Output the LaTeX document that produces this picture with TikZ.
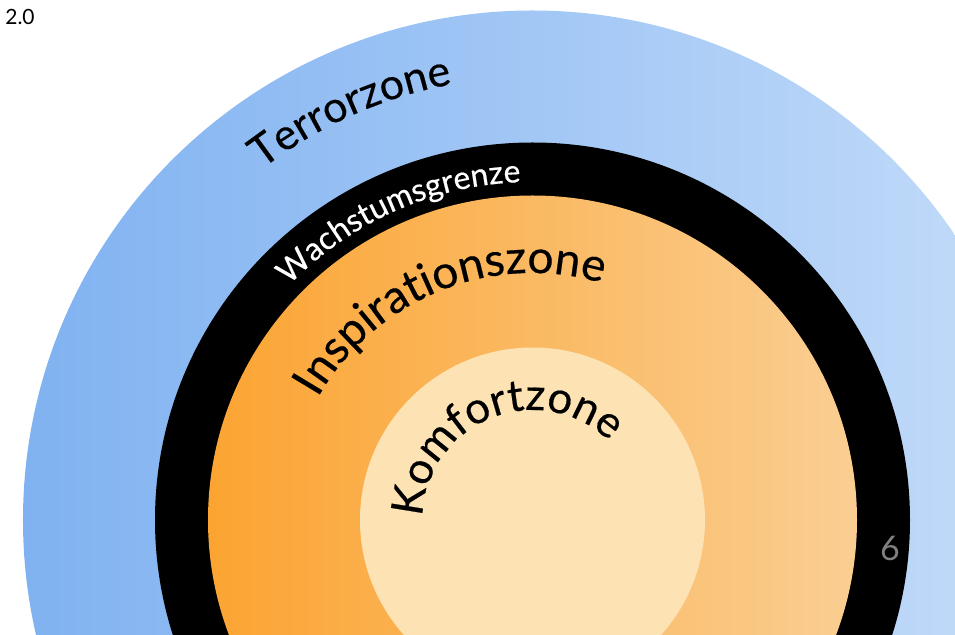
\documentclass[tikz,border=0pt]{standalone}
\usepackage{fontspec}
\setmainfont{Lato}
\usepackage{tikz}
\usetikzlibrary{decorations.text}
\definecolor{terrorleft}{RGB}{128,178,241}
\definecolor{terrorright}{RGB}{196,220,249}
\definecolor{inspleft}{RGB}{251,164,50}
\definecolor{inspright}{RGB}{250,206,146}
\definecolor{komfortcolor}{RGB}{253,227,179}
\definecolor{pagenumcolor}{RGB}{128,128,128}
\newfontfamily\zonefont[FakeBold=0.4]{Lato}
\newcommand{\terrorfont}{\zonefont\fontsize{43}{50}\selectfont}
\newcommand{\grenzefont}{\color{white}\zonefont\fontsize{32}{36}\selectfont}
\newcommand{\inspfont}{\zonefont\fontsize{46}{54}\selectfont}
\newcommand{\komfortfont}{\zonefont\fontsize{44}{52}\selectfont}
\tikzset{
  zone label/.style={
    decorate,
    decoration={text along path, text align=center, text={#1}}
  },
  corner label/.style={
    inner sep=0pt,
    font=\fontsize{21}{23}\selectfont
  },
  page number/.style={
    inner sep=0pt,
    text=pagenumcolor,
    font=\fontsize{34}{36}\selectfont
  }
}

\begin{document}
\begin{tikzpicture}[x=1pt, y=1pt]

  % page frame, centre of the rings at the origin
  \useasboundingbox (-532.5,-114) rectangle (422.5,520);
  \clip (-532.5,-114) rectangle (422.5,520);

  % rings
  \shade[left color=terrorleft, right color=terrorright] (0,0) circle (509.5);
  \fill[black] (0,0) circle (377.5);
  \shade[left color=inspleft, right color=inspright] (0,0) circle (324.5);
  \fill[komfortcolor] (0,0) circle (172.5);

  % curved labels
  \path[zone label={|\terrorfont|Terrorzone}]
    (174:443) arc[start angle=174, end angle=54, radius=443];
  \path[zone label={|\grenzefont|Wachstumsgrenze}]
    (174:338) arc[start angle=174, end angle=54, radius=338];
  \path[zone label={|\inspfont|Inspirationszone}]
    (172:247) arc[start angle=172, end angle=52, radius=247];
  \path[zone label={|\komfortfont|Komfortzone}]
    (200:110) arc[start angle=200, end angle=24, radius=110];

  % corner texts
  \node[corner label] (version) at (-512.5,503) {2.0};
  \node[page number] (pagenum) at (357.5,-28) {6};

\end{tikzpicture}
\end{document}
